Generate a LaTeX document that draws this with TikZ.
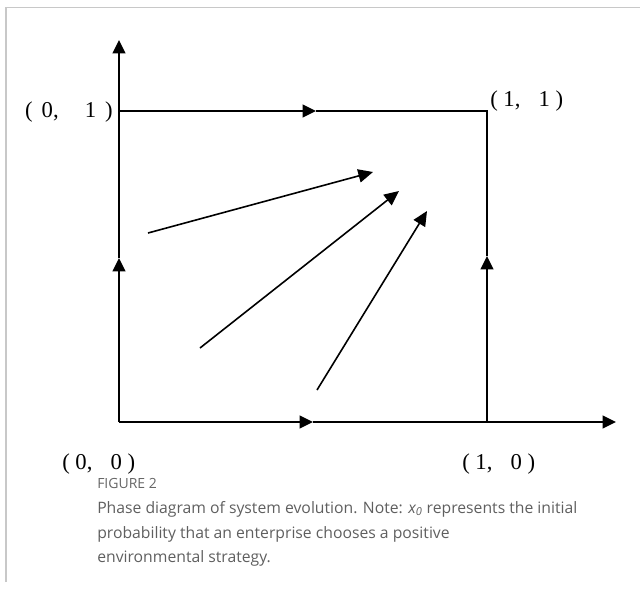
\documentclass[tikz,border=0pt]{standalone}
\usepackage{fontspec}
\setmainfont{Liberation Serif}
\newfontfamily\capfont{Open Sans}
\usetikzlibrary{arrows.meta}
\definecolor{framegray}{HTML}{C8C8C8}
\definecolor{captext}{HTML}{5F5F5F}
\definecolor{figgray}{HTML}{666666}
\tikzset{
  mainline/.style={line width=1.6pt, black},
  diag/.style={line width=1.2pt, black, -{Triangle[length=11pt,width=10pt]}},
  tip/.style={-{Triangle[length=10pt,width=9.5pt]}},
  ptlabel/.style={font=\fontsize{17}{19}\selectfont, inner sep=0pt},
  captxt/.style={font=\capfont\fontsize{11.8}{15}\selectfont, text=captext, anchor=west, inner sep=0pt}
}
\newcommand{\ptlab}[2]{(\hspace{0.4em}#1,\hspace{1.15em}#2\hspace{0.4em})}
\newcommand{\ptlabn}[2]{(\hspace{0.25em}#1,\hspace{0.8em}#2\hspace{0.25em})}
\begin{document}
\begin{tikzpicture}[x=0.75pt,y=-0.75pt]
\useasboundingbox (0,0) rectangle (640,590);
% frame
\draw[framegray, line width=1.2pt] (6,582) -- (6,7.5) -- (640,7.5);
% coordinates
\coordinate (O) at (119,422);
\coordinate (Ytop) at (119,40);
\coordinate (Xend) at (616,422);
\coordinate (A) at (119,111);
\coordinate (B) at (487,111);
\coordinate (C) at (487,422);
\coordinate (mL) at (119,258);
\coordinate (mR) at (487,256);
\coordinate (mT) at (316,111);
\coordinate (mB) at (313,422);
% axes and square
\draw[mainline, tip] (O) -- (mL);
\draw[mainline, tip] (mL) -- (Ytop);
\draw[mainline, tip] (O) -- (mB);
\draw[mainline, tip] (mB) -- (Xend);
\draw[mainline, tip] (A) -- (mT);
\draw[mainline] (mT) -- (B) -- (mR);
\draw[mainline, tip] (C) -- (mR);
% diagonal trajectories
\coordinate (s1) at (148,233);
\coordinate (e1) at (373,172);
\coordinate (s2) at (200,348);
\coordinate (e2) at (399,191);
\coordinate (s3) at (317,390);
\coordinate (e3) at (427,211);
\draw[diag] (s1) -- (e1);
\draw[diag] (s2) -- (e2);
\draw[diag] (s3) -- (e3);
% labels
\node[ptlabel, anchor=east] (l01) at (113,112) {\ptlab{0}{1}};
\node[ptlabel, anchor=west] (l11) at (490,101) {\ptlabn{1}{1}};
\node[ptlabel, anchor=west] (l00) at (62,464) {\ptlabn{0}{0}};
\node[ptlabel, anchor=west] (l10) at (462,464) {\ptlabn{1}{0}};
% caption
\node[captxt, text=figgray, font=\capfont\fontsize{10.5}{12}\selectfont] (fig) at (97,483) {FIGURE 2};
\node[captxt] (c1) at (97,509) {Phase diagram of system evolution. Note: \textit{x\textsubscript{0}} represents the initial};
\node[captxt] (c2) at (97,534) {probability that an enterprise chooses a positive};
\node[captxt] (c3) at (97,558) {environmental strategy.};
\end{tikzpicture}
\end{document}
